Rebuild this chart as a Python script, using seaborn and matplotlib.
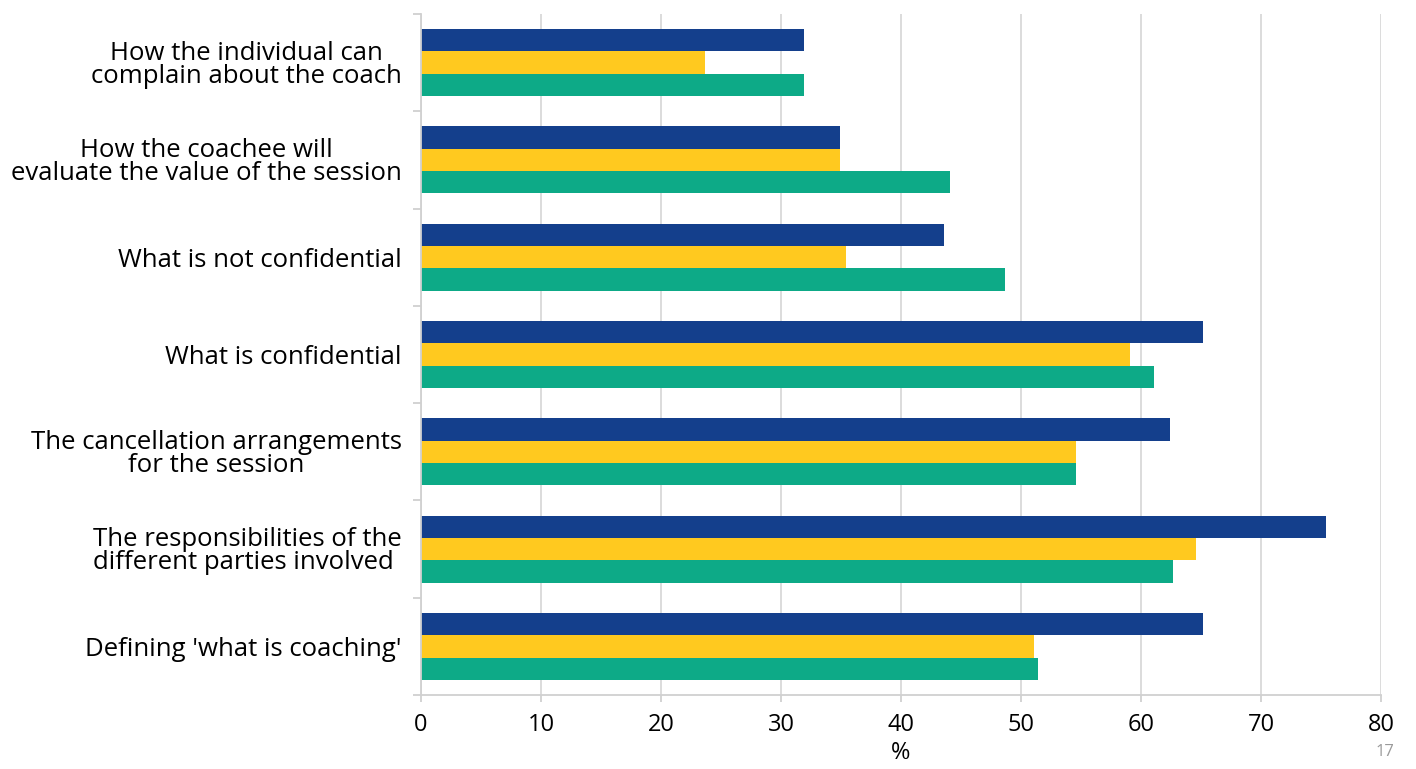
import numpy as np
import pandas as pd
import matplotlib
matplotlib.use('Agg')
import matplotlib.pyplot as plt
import seaborn as sns

# categories top -> bottom
categories = [
    'How the individual can\ncomplain about the coach',
    'How the coachee will\nevaluate the value of the session',
    'What is not confidential',
    'What is confidential',
    'The cancellation arrangements\nfor the session',
    'The responsibilities of the\ndifferent parties involved ',
    "Defining 'what is coaching'",
]
series_names = ['Series 1', 'Series 2', 'Series 3']
navy_vals = [31.9, 34.9, 43.6, 65.2, 62.4, 75.4, 65.2]
yellow_vals = [23.7, 34.9, 35.4, 59.1, 54.6, 64.6, 51.1]
green_vals = [31.9, 44.1, 48.7, 61.1, 54.6, 62.7, 51.4]
colors = ['#143F8C', '#FFC91F', '#0DAA87']
x_ticks = [0, 10, 20, 30, 40, 50, 60, 70, 80]

rows = []
for name, vals in zip(series_names, [navy_vals, yellow_vals, green_vals]):
    for c, v in zip(categories, vals):
        rows.append({'category': c, 'series': name, 'value': v})
df = pd.DataFrame(rows)

sns.set_style('white')
plt.rcParams['font.family'] = ['Open Sans', 'DejaVu Sans']
plt.rcParams['text.color'] = 'black'
plt.rcParams['xtick.color'] = 'black'
plt.rcParams['ytick.color'] = 'black'
plt.rcParams['axes.labelcolor'] = 'black'

fig = plt.figure(figsize=(14.16, 7.69), dpi=100)
ax = fig.add_axes([421 / 1416, 1 - 695 / 769, 960 / 1416, (695 - 14) / 769])

sns.barplot(data=df, y='category', x='value', hue='series', order=categories,
            hue_order=series_names, palette=colors, orient='h', width=0.69,
            legend=False, ax=ax, saturation=1, edgecolor='none')

ax.set_xlim(0, 80)
ax.set_ylim(len(categories) - 0.5, -0.5)
ax.set_xticks(x_ticks)
ax.set_xticklabels([str(t) for t in x_ticks], fontsize=17)
ax.xaxis.grid(True, color='#d9d9d9', linewidth=1.3)
ax.set_axisbelow(True)

# category boundaries as major ticks, labels on minor ticks at centers
ax.set_yticks(np.arange(-0.5, len(categories), 1.0))
ax.set_yticklabels([])
ax.set_yticks(np.arange(len(categories)), minor=True)
ax.set_yticklabels(categories, minor=True, fontsize=18.5, ha='right',
                   multialignment='center', linespacing=0.9)
ax.tick_params(axis='y', which='major', length=6, color='#d0d0d0', width=1.3, left=True)
ax.tick_params(axis='y', which='minor', length=0, pad=14)
ax.tick_params(axis='x', which='major', length=5, color='#d0d0d0', width=1.3,
               bottom=True, pad=8)

for side in ['top', 'right']:
    ax.spines[side].set_visible(False)
for side in ['left', 'bottom']:
    ax.spines[side].set_color('#d0d0d0')
    ax.spines[side].set_linewidth(1.3)

ax.set_ylabel('')
ax.set_xlabel('%', fontsize=17, labelpad=3)

fig.text(1385 / 1416, 1 - 752 / 769, '17', color='#9a9a9a', fontsize=12,
         ha='center', va='center')

fig.savefig('out.png', dpi=100)
